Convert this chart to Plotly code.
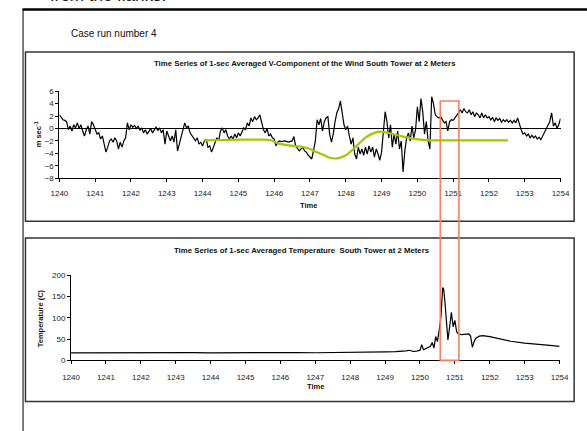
import plotly.graph_objects as go

W, H = 587, 431

# ---------------- data ----------------
v_time = [1240.0,1240.05,1240.1,1240.15,1240.2,1240.25,1240.3,1240.35,1240.4,1240.45,1240.5,1240.55,1240.6,1240.65,1240.7,1240.75,1240.8,1240.85,1240.9,1240.95,
          1241.0,1241.05,1241.1,1241.15,1241.2,1241.25,1241.3,1241.35,1241.4,1241.45,1241.5,1241.55,1241.6,1241.65,1241.7,1241.75,1241.8,1241.85,1241.9,1241.95,
          1242.0,1242.05,1242.1,1242.15,1242.2,1242.25,1242.3,1242.35,1242.4,1242.45,1242.5,1242.55,1242.6,1242.65,1242.7,1242.75,1242.8,1242.85,1242.9,1242.95,
          1243.0,1243.05,1243.1,1243.15,1243.2,1243.25,1243.3,1243.35,1243.4,1243.45,1243.5,1243.55,1243.6,1243.65,1243.7,1243.75,1243.8,1243.85,1243.9,1243.95,
          1244.0,1244.05,1244.1,1244.15,1244.2,1244.25,1244.3,1244.35,1244.4,1244.45,1244.5,1244.55,1244.6,1244.65,1244.7,1244.75,1244.8,1244.85,1244.9,1244.95,
          1245.0,1245.05,1245.1,1245.15,1245.2,1245.25,1245.3,1245.35,1245.4,1245.45,1245.5,1245.55,1245.6,1245.65,1245.7,1245.75,1245.8,1245.85,1245.9,1245.95,
          1246.0,1246.05,1246.1,1246.15,1246.2,1246.3,1246.4,1246.5,1246.55,1246.6,1246.7,1246.75,1246.8,1246.85,1246.9,1246.95,
          1247.05,1247.1,1247.15,1247.2,1247.25,1247.3,1247.35,1247.4,1247.45,1247.5,1247.55,1247.6,1247.65,1247.7,1247.75,1247.8,1247.85,1247.9,1247.95,
          1248.0,1248.05,1248.1,1248.15,1248.2,1248.25,1248.3,1248.35,1248.4,1248.45,1248.5,1248.55,1248.6,1248.65,1248.7,1248.75,1248.8,1248.85,1248.9,1248.95,
          1249.0,1249.05,1249.1,1249.15,1249.2,1249.25,1249.3,1249.35,1249.4,1249.45,1249.5,1249.55,1249.6,1249.65,1249.7,1249.75,1249.8,1249.85,1249.9,1249.95,
          1250.0,1250.05,1250.1,1250.15,1250.2,1250.25,1250.3,1250.35,1250.4,1250.45,1250.5,1250.55,1250.6,1250.65,1250.7,1250.75,1250.8,1250.85,1250.9,1250.95,
          1251.0,1251.05,1251.1,1251.15,1251.2,1251.25,1251.3,1251.35,1251.4,1251.45,1251.5,1251.55,1251.6,1251.65,1251.7,1251.75,1251.8,1251.85,1251.9,1251.95,
          1252.0,1252.05,1252.1,1252.15,1252.2,1252.25,1252.3,1252.35,1252.4,1252.45,1252.5,1252.55,1252.6,1252.65,1252.7,1252.75,1252.8,1252.85,1252.9,1252.95,
          1253.0,1253.05,1253.1,1253.15,1253.2,1253.25,1253.3,1253.35,1253.4,1253.45,1253.5,1253.55,1253.6,1253.65,1253.7,1253.75,1253.8,1253.85,1253.9,1253.95,1254.0]
v_wind = [2.2,1.7,1.4,1.3,1.1,-0.2,0.4,-0.4,0.6,0.1,0.9,0.0,0.6,-0.4,-1.2,-0.2,0.4,-0.9,1.1,0.6,
          -0.2,-0.9,-0.7,-1.7,-1.2,-2.5,-3.8,-3.0,-2.0,-1.7,-2.2,-1.5,-2.0,-3.3,-2.2,-3.0,-2.0,-1.5,0.9,-0.2,
          0.6,0.2,0.5,0.0,0.4,-0.3,0.1,-0.7,-0.2,-0.9,-0.4,0.0,-0.7,-0.2,0.2,-0.3,0.1,-0.7,-0.2,-2.5,
          -0.4,-1.2,-2.0,-1.2,-2.2,-0.2,-3.6,-2.5,-1.5,-0.2,0.9,0.1,0.4,-0.7,-1.2,-1.7,-2.0,-1.5,-2.5,-2.2,
          -2.8,-2.0,-1.7,-3.0,-2.8,-3.8,-3.0,-2.5,-1.5,-2.0,-0.4,0.1,-0.7,-0.2,-1.2,-1.7,-1.2,-1.7,-0.9,-1.5,
          -0.7,-1.2,-0.4,0.1,-0.2,0.9,0.4,1.7,1.1,1.9,1.4,1.7,2.2,0.9,-0.2,-0.7,0.0,-1.2,-0.9,-1.5,
          -1.7,-2.8,-2.2,-2.0,-2.1,-2.0,-2.2,-2.0,-1.3,-2.8,-3.6,-3.3,-3.0,-3.6,-3.8,-4.3,
          -4.9,-3.5,-2.0,1.4,0.6,1.6,-0.4,1.1,1.7,1.9,-0.9,-2.2,-0.9,1.1,2.5,3.2,4.4,2.5,0.6,
          -0.2,0.4,-1.2,-2.5,-1.5,-4.1,-4.9,-3.0,-4.1,-3.3,-4.3,-3.0,-4.1,-2.8,-3.8,-3.0,-4.6,-3.3,-4.1,-5.1,
          -3.8,-0.4,2.7,1.1,-1.5,0.6,-3.0,-0.9,-2.5,-0.4,-3.3,-2.0,-7.0,-3.6,-1.5,-0.7,-2.0,0.4,-1.5,-0.2,
          3.5,1.1,4.8,2.7,-0.9,1.1,-2.0,-3.3,5.1,4.0,2.2,1.9,1.7,1.9,1.4,0.9,1.1,-0.4,1.1,1.4,
          1.3,1.7,1.9,2.5,3.0,2.5,3.2,2.7,2.5,3.0,2.2,2.7,1.9,2.5,2.2,1.7,2.5,1.7,2.2,1.7,
          1.9,1.4,1.8,1.1,1.7,1.3,1.6,1.0,1.4,1.1,1.4,1.0,1.3,0.9,1.3,0.9,1.7,0.6,-0.2,-0.9,
          -0.7,-1.2,-0.9,-1.5,-1.1,-1.5,-1.2,-1.7,-1.4,-1.8,-1.2,-0.7,-0.2,0.4,1.1,2.5,0.4,0.9,0.0,0.6,1.6]

smooth_time = [1244.05,1244.5,1245.0,1245.5,1245.9,1246.1,1246.4,1246.73,1247.0,1247.19,1247.4,1247.55,1247.77,1248.0,1248.27,1248.54,1248.8,1248.97,1249.25,1249.6,1249.96,1250.32,1250.8,1251.5,1252.0,1252.53]
smooth_wind = [-1.9,-1.85,-1.8,-1.8,-1.85,-2.4,-2.7,-2.9,-3.3,-3.8,-4.3,-4.7,-4.8,-4.3,-3.0,-1.5,-0.7,-0.5,-0.8,-1.3,-1.7,-1.9,-1.9,-1.9,-1.9,-1.9]

temp_time = [1240.0,1240.5,1241.0,1241.5,1242.0,1242.5,1243.0,1243.5,1244.0,1244.5,1245.0,1245.5,1246.0,1246.5,1247.0,1247.5,1248.0,1248.5,
             1249.0,1249.3,1249.5,1249.6,1249.7,1249.8,1249.9,1250.0,1250.05,1250.1,1250.2,1250.3,1250.35,1250.4,1250.45,1250.5,1250.55,1250.6,
             1250.65,1250.68,1250.72,1250.75,1250.8,1250.85,1250.9,1250.95,1251.0,1251.05,1251.1,1251.2,1251.3,1251.4,1251.45,1251.5,1251.55,1251.6,
             1251.7,1251.8,1252.0,1252.3,1252.6,1253.0,1253.4,1253.8,1254.0]
temp_vals = [17.5,17.8,17.6,17.9,17.6,18.2,17.8,18.4,17.9,18.3,18.0,18.5,18.1,18.4,18.0,18.3,18.5,18.0,
             20.0,20.5,20.7,22.5,23.8,21.0,21.5,24.0,36.8,25.0,29.0,33.0,42.0,29.0,56.0,44.0,71.0,102.0,
             171.0,167.0,132.0,102.0,48.0,79.0,113.0,79.0,94.0,67.0,62.0,60.5,62.0,62.0,57.0,31.0,44.0,52.0,
             57.0,58.0,56.0,50.0,45.0,40.6,36.8,34.5,33.0]

x_ticks = [1240,1241,1242,1243,1244,1245,1246,1247,1248,1249,1250,1251,1252,1253,1254]
v_ticks = [-8,-6,-4,-2,0,2,4,6]
t_ticks = [0,50,100,150,200]

highlight = [1250.64, 1251.16]

title1 = "Time Series of 1-sec Averaged V-Component of the Wind South Tower at 2 Meters"
title2 = "Time Series of 1-sec Averaged Temperature  South Tower at 2 Meters"

FONT = "Liberation Sans, Arial, sans-serif"

def px(x):
    return x / W

def py(y):
    return 1 - y / H

fig = go.Figure()
fig.add_trace(go.Scatter(x=v_time, y=v_wind, mode="lines", line=dict(color="black", width=1.2),
                         xaxis="x", yaxis="y", showlegend=False, hoverinfo="skip"))
fig.add_trace(go.Scatter(x=smooth_time, y=smooth_wind, mode="lines", line=dict(color="#99cc00", width=2.2, shape="spline", smoothing=0.8),
                         xaxis="x", yaxis="y", showlegend=False, hoverinfo="skip"))
fig.add_trace(go.Scatter(x=temp_time, y=temp_vals, mode="lines", line=dict(color="black", width=1.2),
                         xaxis="x2", yaxis="y2", showlegend=False, hoverinfo="skip"))

axis_common = dict(showgrid=False, showline=True, linecolor="black", linewidth=1,
                   ticks="outside", ticklen=3, tickcolor="black", tickwidth=1,
                   tickfont=dict(family=FONT, size=8, color="#222"))

fig.update_layout(
    width=W, height=H, margin=dict(l=0, r=0, t=0, b=0),
    paper_bgcolor="white", plot_bgcolor="white",
    xaxis=dict(domain=[px(52), px(569)], range=[1240, 1254], tickvals=x_ticks, anchor="y",
               ticklabelstandoff=4, **axis_common),
    yaxis=dict(domain=[py(178), py(89)], range=[-8, 6], tickvals=v_ticks, anchor="x",
               zeroline=True, zerolinecolor="black", zerolinewidth=1, **axis_common),
    xaxis2=dict(domain=[px(64), px(568)], range=[1240, 1254], tickvals=x_ticks, anchor="y2",
                ticklabelstandoff=6, **axis_common),
    yaxis2=dict(domain=[py(364), py(277)], range=[0, 200], tickvals=t_ticks, anchor="x2", zeroline=False, **axis_common),
)

shapes = [
    # outer frame
    dict(type="line", xref="paper", yref="paper", x0=px(14), x1=1.02, y0=py(5.5), y1=py(5.5), line=dict(color="black", width=2.5)),
    dict(type="line", xref="paper", yref="paper", x0=px(14.5), x1=px(14.5), y0=py(5), y1=-0.02, line=dict(color="black", width=1)),
    # chart boxes
    dict(type="rect", xref="paper", yref="paper", x0=px(17), x1=px(583), y0=py(222), y1=py(49), line=dict(color="#333", width=1.5)),
    dict(type="rect", xref="paper", yref="paper", x0=px(17), x1=px(583), y0=py(406), y1=py(239), line=dict(color="#333", width=1.5)),
    # highlight rectangle spanning both charts
    dict(type="rect", xref="x", yref="paper", x0=highlight[0], x1=highlight[1], y0=py(364), y1=py(99),
         line=dict(color="#f3805f", width=1.6)),
]
fig.update_layout(shapes=shapes)

ann = [
    dict(text="from the flanks.", x=px(40), y=py(3), xanchor="left", yanchor="bottom", font=dict(size=17)),
    dict(text="Case run number 4", x=px(62), y=py(30), xanchor="left", yanchor="middle", font=dict(size=10)),
    dict(text="<b>" + title1 + "</b>", x=px(305), y=py(61), xanchor="center", yanchor="middle", font=dict(size=7.8)),
    dict(text="<b>" + title2 + "</b>", x=px(302), y=py(252), xanchor="center", yanchor="middle", font=dict(size=7.8)),
    dict(text="<b>m sec<sup>-1</sup></b>", x=px(30), y=py(133), textangle=-90, xanchor="center", yanchor="middle", font=dict(size=7.5)),
    dict(text="<b>Temperature (C)</b>", x=px(32), y=py(321), textangle=-90, xanchor="center", yanchor="middle", font=dict(size=7.5)),
    dict(text="<b>Time</b>", x=px(309), y=py(206), xanchor="center", yanchor="middle", font=dict(size=7.5)),
    dict(text="<b>Time</b>", x=px(316), y=py(391), xanchor="center", yanchor="middle", font=dict(size=7.5)),
]
for a in ann:
    a.update(xref="paper", yref="paper", showarrow=False)
    a["font"] = dict(family=FONT, color="#111", **a["font"])
fig.update_layout(annotations=ann)

fig.write_html("out.html", config={"displayModeBar": False},
               post_script="document.body.style.margin='0';document.body.style.overflow='hidden';")
